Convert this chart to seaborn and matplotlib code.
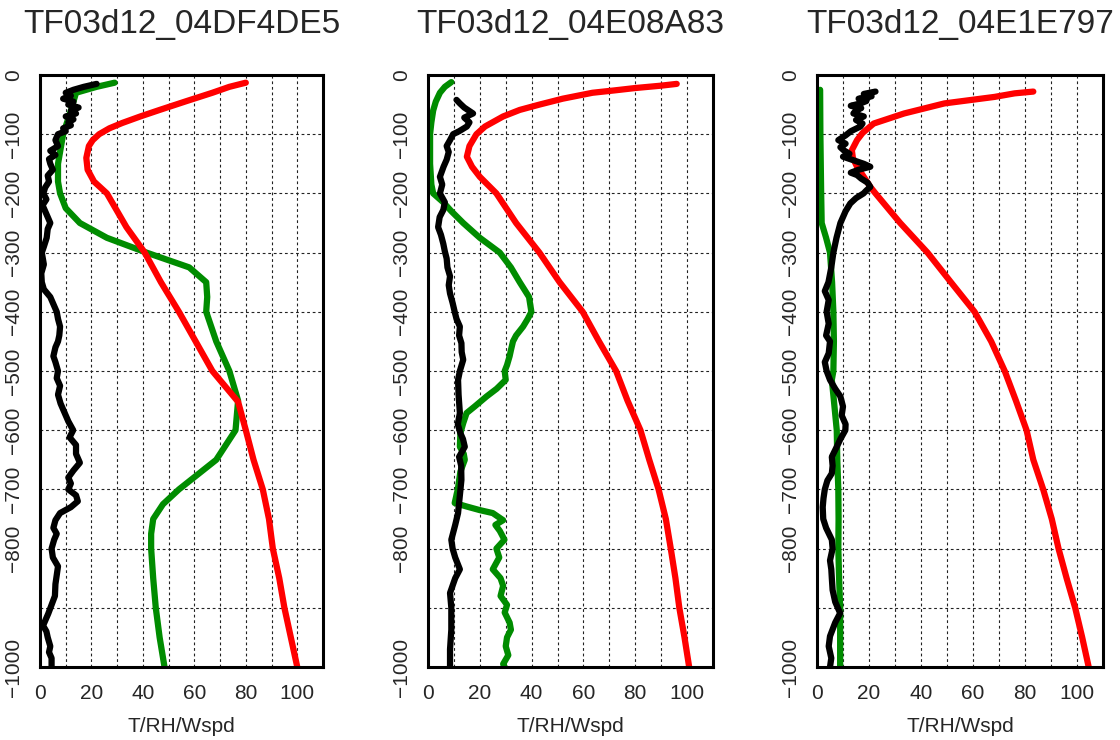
import matplotlib
matplotlib.use("Agg")
import matplotlib.pyplot as plt
import pandas as pd
import seaborn as sns

# titulos dos paineis
titles = ["TF03d12_04DF4DE5", "TF03d12_04E08A83", "TF03d12_04E1E797"]

# perfis (altura, valor)
red1 = [(-13, 80), (-20, 73.6), (-30, 67), (-44, 57), (-59, 46.5), (-70, 39), (-81, 32),
        (-90, 27), (-100, 23), (-110, 20.5), (-120, 19), (-140, 18), (-160, 18.5), (-180, 21),
        (-200, 26), (-230, 30), (-257, 33.6), (-300, 40.7), (-350, 47), (-400, 54), (-450, 60.5),
        (-500, 67), (-552, 77), (-600, 80), (-650, 83), (-700, 86.6), (-750, 89), (-800, 90.5),
        (-850, 93), (-900, 95), (-950, 97.5), (-1000, 100)]
green1 = [(-13, 29), (-20, 22), (-30, 14), (-45, 13), (-60, 12), (-80, 10.5), (-100, 9),
          (-125, 8), (-150, 7), (-180, 7), (-200, 7.8), (-225, 10), (-250, 15.5), (-275, 26),
          (-300, 41.4), (-325, 58), (-350, 64.6), (-375, 65), (-400, 64.6), (-450, 68.5),
          (-500, 73.6), (-550, 77), (-600, 76), (-650, 68.5), (-700, 54), (-725, 47.8),
          (-750, 44), (-775, 43.2), (-800, 43.2), (-850, 44), (-900, 45), (-950, 46.5),
          (-1000, 48.4)]
black1 = [(-15, 22), (-20, 17), (-25, 13), (-30, 10), (-35, 12), (-40, 9), (-45, 13), (-50, 11),
          (-55, 15), (-60, 12), (-65, 14), (-70, 10), (-75, 13), (-80, 11), (-85, 12), (-90, 9),
          (-95, 10), (-100, 7), (-110, 6), (-120, 7), (-128, 4), (-135, 6), (-142, 3.5),
          (-150, 4), (-160, 5), (-170, 3), (-180, 3.5), (-190, 2), (-200, 1.3), (-210, 2.5),
          (-220, 1), (-230, 2), (-240, 3), (-250, 4), (-260, 3), (-275, 2.6), (-290, 1.5),
          (-300, 0.7), (-320, 1.5), (-335, 0.5), (-350, 0.7), (-362, 1.5), (-375, 4),
          (-390, 5.5), (-400, 6.5), (-412, 7), (-425, 7.8), (-440, 7.5), (-450, 7), (-460, 6),
          (-475, 5.2), (-485, 6), (-500, 7), (-512, 6.5), (-525, 7.8), (-540, 7), (-555, 8),
          (-570, 9.5), (-585, 11), (-600, 12.9), (-612, 11.5), (-625, 14), (-640, 14),
          (-655, 15.5), (-668, 13), (-680, 11), (-690, 12), (-700, 11), (-710, 14),
          (-720, 14.7), (-730, 12), (-740, 7.8), (-752, 6), (-765, 5.2), (-775, 6.5),
          (-785, 5.5), (-800, 4.5), (-815, 5), (-830, 7), (-845, 6.5), (-860, 6), (-880, 5.8),
          (-895, 4.5), (-910, 3.2), (-922, 2), (-930, 1.2), (-940, 2.5), (-950, 3), (-965, 4),
          (-975, 3.5), (-985, 4.5), (-1000, 4.5)]

red2 = [(-15, 96), (-18, 90), (-22, 80), (-26, 72), (-30, 63.5), (-40, 52), (-50, 43),
        (-59, 35.4), (-70, 29), (-87, 22), (-100, 18.7), (-120, 16), (-138, 15), (-155, 17),
        (-172, 20), (-200, 26.4), (-250, 34), (-300, 43), (-350, 50.8), (-400, 59.7),
        (-450, 66), (-500, 72.6), (-550, 77), (-600, 82), (-650, 85.4), (-700, 89),
        (-750, 91.8), (-800, 93.7), (-850, 95.5), (-900, 97), (-950, 99), (-1000, 100.8)]
green2 = [(-12, 9), (-20, 6.5), (-30, 4.6), (-45, 3), (-60, 2), (-80, 1.3), (-100, 0.8),
          (-150, 0.8), (-185, 1.3), (-200, 2), (-215, 5.9), (-230, 9), (-250, 13.6), (-275, 20),
          (-300, 27.7), (-325, 32), (-350, 35.4), (-375, 39), (-400, 39.9), (-412, 38.5),
          (-425, 36.7), (-440, 34), (-450, 32.8), (-465, 32), (-475, 31.5), (-490, 30.5),
          (-500, 29.6), (-515, 30), (-530, 26.5), (-543, 22.6), (-560, 18), (-571, 14.9),
          (-588, 13.6), (-605, 12.5), (-628, 12.3), (-640, 13.8), (-650, 14.2), (-670, 12.5),
          (-700, 11.5), (-723, 10.3), (-729, 15), (-735, 20), (-740, 25), (-752, 29),
          (-760, 26), (-770, 27.7), (-785, 29.5), (-800, 26.4), (-815, 27.5), (-835, 25),
          (-850, 28), (-863, 29), (-880, 28), (-895, 30.5), (-908, 29.6), (-925, 31.5),
          (-937, 32), (-950, 30.5), (-965, 30), (-980, 31), (-995, 29), (-1000, 29.6)]
black2 = [(-42, 11), (-48, 12.3), (-55, 14), (-65, 17.4), (-72, 14), (-80, 16), (-87, 15),
          (-95, 12), (-100, 9.7), (-110, 8.5), (-120, 7.2), (-130, 8), (-143, 7.2), (-155, 6),
          (-172, 4.6), (-185, 5.5), (-200, 4.6), (-215, 6.5), (-228, 5.9), (-240, 4.5),
          (-257, 3.9), (-270, 5), (-285, 5.9), (-298, 6.5), (-310, 7.2), (-325, 7.5),
          (-340, 8.5), (-355, 8), (-369, 8.5), (-385, 9.5), (-400, 10.3), (-412, 11),
          (-425, 12.3), (-440, 12), (-453, 12.9), (-468, 13), (-481, 13.6), (-500, 12.3),
          (-515, 11.6), (-540, 11.8), (-571, 12.3), (-590, 11.5), (-605, 12.5), (-615, 13.5),
          (-628, 14.2), (-645, 12), (-660, 12.8), (-684, 12.9), (-710, 12.3), (-740, 11.6),
          (-760, 10.5), (-785, 9), (-800, 9.5), (-815, 10.5), (-835, 12.3), (-850, 10.5),
          (-875, 8.5), (-900, 9), (-937, 9), (-970, 8.5), (-1000, 8.5)]

red3 = [(-28, 83.2), (-31, 76), (-37, 68.3), (-48, 49), (-65, 33.5), (-82, 21.8), (-98, 17.5),
        (-110, 15.4), (-127, 13.4), (-140, 13.8), (-155, 15.4), (-172, 18), (-189, 20.5),
        (-200, 22.5), (-250, 32), (-300, 42.5), (-350, 51.5), (-400, 60.6), (-450, 67),
        (-500, 72.2), (-550, 76.5), (-600, 80.6), (-650, 83.2), (-700, 87), (-750, 90.3),
        (-800, 92.9), (-850, 96), (-900, 99.3), (-950, 102), (-1000, 104.5)]
green3 = [(-25, 1.2), (-100, 1.3), (-200, 1.6), (-250, 1.8), (-275, 3.5), (-300, 5),
          (-350, 5.8), (-400, 6.3), (-450, 6.5), (-500, 6.3), (-515, 5.7), (-550, 6.5),
          (-600, 7.6), (-650, 7.8), (-700, 8.2), (-750, 8.3), (-800, 8.2), (-850, 8.5),
          (-900, 8.9), (-950, 8.9), (-1000, 8.9)]
black3 = [(-28, 22.5), (-32, 18), (-36, 21), (-40, 16), (-44, 19), (-48, 16.7), (-52, 13),
          (-56, 17), (-60, 15), (-65, 14), (-70, 18), (-76, 15), (-82, 17.5), (-87, 16.7),
          (-95, 13), (-102, 11), (-110, 8.2), (-116, 11), (-122, 9), (-127, 10.2), (-133, 12.5),
          (-138, 10), (-144, 14), (-150, 18), (-155, 20.5), (-160, 16), (-165, 13),
          (-169, 15.4), (-175, 17), (-182, 19.5), (-189, 20.5), (-195, 19), (-200, 17.9),
          (-208, 15), (-217, 12.8), (-230, 11), (-250, 9), (-275, 7.5), (-300, 6.3),
          (-325, 5.5), (-350, 4.4), (-365, 3), (-380, 4.5), (-400, 3.7), (-420, 4.5),
          (-440, 3.5), (-450, 5), (-470, 4.5), (-485, 3), (-500, 3.7), (-515, 5), (-530, 7),
          (-543, 9), (-560, 10), (-575, 9.5), (-590, 11), (-600, 10.9), (-615, 9),
          (-628, 7.6), (-645, 5.7), (-660, 6), (-673, 5.7), (-685, 4), (-700, 3), (-715, 2.5),
          (-730, 2.2), (-750, 2.4), (-765, 3.5), (-785, 5.7), (-800, 6), (-820, 5),
          (-835, 5.5), (-850, 5.7), (-870, 6), (-890, 7), (-909, 8.9), (-925, 7), (-948, 5),
          (-965, 4.5), (-985, 5.5), (-1000, 5)]

panels = [(green1, red1, black1), (green2, red2, black2), (green3, red3, black3)]
colors = ["#008c00", "#ff0000", "#000000"]

xticks = [0, 20, 40, 60, 80, 100]
yticks = [0, -100, -200, -300, -400, -500, -600, -700, -800, -1000]

sns.set_style("white")
plt.rcParams["font.family"] = ["Liberation Sans", "DejaVu Sans"]

fig = plt.figure(figsize=(11.2, 7.4), dpi=100)
lefts = [40, 428, 817]
widths = [283, 285, 286]

for i in range(3):
    ax = fig.add_axes([lefts[i] / 1120, 73 / 740, widths[i] / 1120, 592 / 740])
    for serie, cor in zip(panels[i], colors):
        df = pd.DataFrame(serie, columns=["altura", "valor"])
        sns.lineplot(data=df, x="valor", y="altura", sort=False, estimator=None,
                     color=cor, linewidth=4.5, solid_capstyle="round", ax=ax)
    ax.set_xlim(0, 110)
    ax.set_ylim(-1000, 0)
    ax.set_xticks(xticks)
    ax.set_yticks(yticks)
    ax.set_xticks(range(10, 101, 10), minor=True)
    ax.set_yticks(range(-900, -99, 100), minor=True)
    ax.grid(which="both", color="#222222", linestyle=(0, (2.5, 2.5)), linewidth=0.8)
    ax.set_axisbelow(True)
    ax.tick_params(axis="both", which="both", length=0, labelsize=15)
    ax.tick_params(axis="x", pad=12)
    ax.tick_params(axis="y", pad=12, labelrotation=90)
    for lbl in ax.get_yticklabels():
        lbl.set_va("center")
    for s in ax.spines.values():
        s.set_visible(True)
        s.set_linewidth(2.2)
        s.set_color("black")
    ax.set_title(titles[i], fontsize=24, pad=30)
    ax.set_xlabel("T/RH/Wspd", fontsize=15, labelpad=10)
    ax.set_ylabel("")

fig.savefig("out.png", dpi=100)
